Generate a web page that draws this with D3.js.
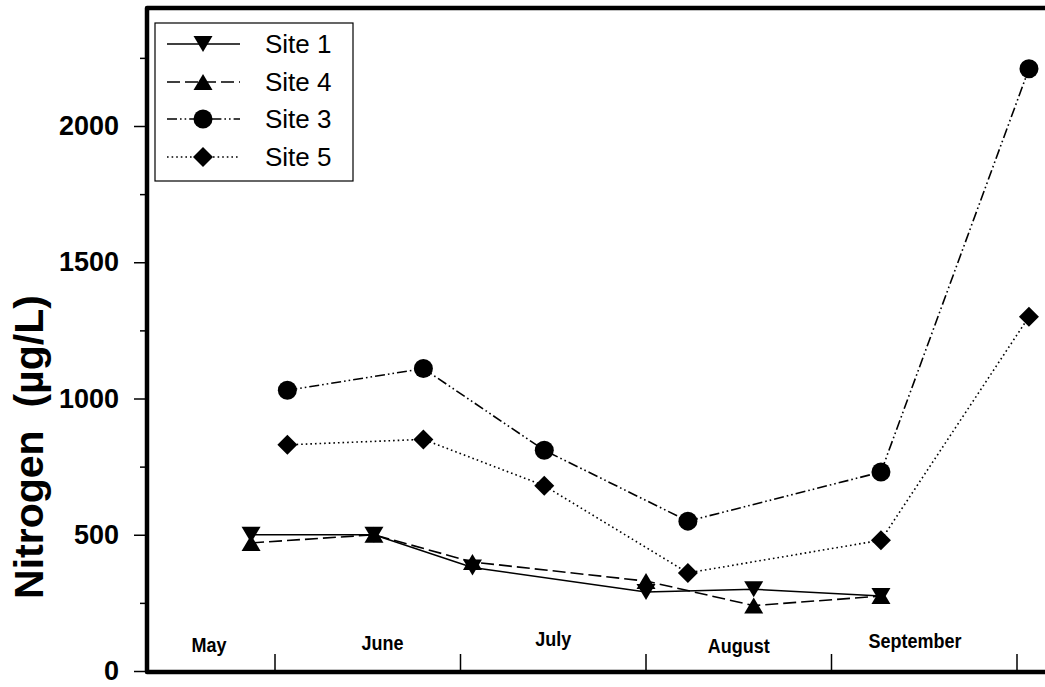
<!DOCTYPE html>
<html>
<head>
<meta charset="utf-8">
<script src="https://cdn.jsdelivr.net/npm/d3@7"></script>
<style>
  html, body { margin: 0; padding: 0; background: #fff; }
  svg { display: block; font-family: Arial, "Liberation Sans", Helvetica, sans-serif; }
</style>
</head>
<body>
<svg id="chart" width="1045" height="687"></svg>
<script>
// Sampling dates (month-day) for each pair of sites
const datesA = ["05-28", "06-17", "07-03", "08-01", "08-19", "09-09"]; // Sites 1 and 4
const datesB = ["06-03", "06-25", "07-15", "08-08", "09-09", "10-03"]; // Sites 3 and 5

// Nitrogen concentrations (µg/L)
const site1 = [500, 500, 380, 290, 300, 275];
const site4 = [470, 500, 400, 330, 240, 275];
const site3 = [1030, 1110, 810, 550, 730, 2210];
const site5 = [830, 850, 680, 360, 480, 1300];

const monthNames = ["May", "June", "July", "August", "September"];
const yTicks = [0, 500, 1000, 1500, 2000];
const yMinorTicks = [250, 750, 1250, 1750, 2250];

const svg = d3.select("#chart");

const plotLeft = 147, plotTop = 8, plotBottom = 672, plotRight = 1075;

// Month-based position: May = 0, June = 1, ... ; fractional part is day within month
const daysIn = [31, 30, 31, 31, 30, 31]; // May..October
function monthPos(md) {
  const [m, d] = md.split("-").map(Number);
  const idx = m - 5;
  return idx + (d - 1) / daysIn[idx];
}

const x = d3.scaleLinear().domain([1, 5]).range([275, 1017]);
const y = d3.scaleLinear().domain([0, 2000]).range([671, 126]);

const series = [
  { name: "Site 1", dates: datesA, values: site1, symbol: "down", dash: null },
  { name: "Site 4", dates: datesA, values: site4, symbol: "up", dash: "13,5" },
  { name: "Site 3", dates: datesB, values: site3, symbol: "circle", dash: "10,3,1.6,3,1.6,3" },
  { name: "Site 5", dates: datesB, values: site5, symbol: "diamond", dash: "1.6,3" }
];

function markerPath(type) {
  const w = 19, h = 16, r = 9.5, dm = 10;
  if (type === "down") return `M${-w/2},${-h/2}L${w/2},${-h/2}L0,${h/2}Z`;
  if (type === "up") return `M${-w/2},${h/2}L${w/2},${h/2}L0,${-h/2}Z`;
  if (type === "diamond") return `M0,${-dm}L${dm},0L0,${dm}L${-dm},0Z`;
  return d3.arc()({ innerRadius: 0, outerRadius: r, startAngle: 0, endAngle: 2 * Math.PI });
}

// Y axis ticks
const yAxis = d3.axisLeft(y).tickValues(yTicks).tickSize(13).tickFormat(d3.format("d")).tickPadding(15);
const gy = svg.append("g").attr("transform", `translate(${plotLeft},0)`).call(yAxis);
gy.select(".domain").remove();
gy.selectAll(".tick line").attr("stroke", "#000").attr("stroke-width", 1.5);
gy.selectAll(".tick text")
  .attr("font-size", 27).attr("font-weight", "bold").attr("fill", "#000")
  .attr("font-family", "Arial, 'Liberation Sans', sans-serif");

const gyMinor = svg.append("g").attr("transform", `translate(${plotLeft},0)`)
  .call(d3.axisLeft(y).tickValues(yMinorTicks).tickSize(7).tickFormat(""));
gyMinor.select(".domain").remove();
gyMinor.selectAll(".tick line").attr("stroke", "#000").attr("stroke-width", 1.5);

// X axis: month boundary ticks pointing up, month names between them
const boundaries = [1, 2, 3, 4, 5];
svg.append("g").selectAll("line").data(boundaries).join("line")
  .attr("x1", d => x(d)).attr("x2", d => x(d))
  .attr("y1", plotBottom).attr("y2", plotBottom - 18)
  .attr("stroke", "#000").attr("stroke-width", 1.5);

// Month names sit between the boundary ticks, each with its own small vertical offset
const labelX = [(plotLeft + x(1)) / 2 - 2, x(1.58), x(2.5), x(3.5), x(4.45)];
const labelY = [652, 650, 646, 653, 648];
svg.append("g").selectAll("text").data(monthNames).join("text")
  .attr("transform", (d, i) => `translate(${labelX[i]},${labelY[i]}) scale(0.9,1)`)
  .attr("text-anchor", "middle")
  .attr("font-size", 20).attr("font-weight", "bold")
  .text(d => d);

// Series lines and markers
const line = d3.line().x(d => x(d.pos)).y(d => y(d.v));
series.forEach(s => {
  const pts = s.values.map((v, i) => ({ pos: monthPos(s.dates[i]), v }));
  svg.append("path").datum(pts)
    .attr("d", line).attr("fill", "none").attr("stroke", "#000")
    .attr("stroke-width", 1.6)
    .attr("stroke-dasharray", s.dash);
  svg.append("g").selectAll("path").data(pts).join("path")
    .attr("transform", d => `translate(${x(d.pos)},${y(d.v)})`)
    .attr("d", markerPath(s.symbol)).attr("fill", "#000");
});

// Frame: left axis, top and bottom borders
svg.append("path")
  .attr("d", `M${plotRight},${plotBottom}L${plotLeft},${plotBottom}L${plotLeft},${plotTop}L${plotRight},${plotTop}`)
  .attr("fill", "none").attr("stroke", "#000").attr("stroke-width", 4.5)
  .attr("stroke-linejoin", "round");

// Y axis title
svg.append("text")
  .attr("transform", `translate(43,447) rotate(-90)`)
  .attr("text-anchor", "middle")
  .attr("font-size", 41).attr("font-weight", "bold")
  .attr("xml:space", "preserve")
  .text("Nitrogen  (\u00b5g/L)");

// Legend
const lg = svg.append("g");
lg.append("rect").attr("x", 155).attr("y", 23).attr("width", 198).attr("height", 158)
  .attr("fill", "#fff").attr("stroke", "#000").attr("stroke-width", 1.2);
const rowY = [44, 82, 119, 157];
series.forEach((s, i) => {
  const ry = rowY[i];
  lg.append("line").attr("x1", 167).attr("x2", 240).attr("y1", ry).attr("y2", ry)
    .attr("stroke", "#000").attr("stroke-width", 1.6).attr("stroke-dasharray", s.dash);
  lg.append("path").attr("transform", `translate(203,${ry})`)
    .attr("d", markerPath(s.symbol)).attr("fill", "#000");
  lg.append("text").attr("x", 265).attr("y", ry).attr("dy", "0.36em")
    .attr("font-size", 26).text(s.name);
});
</script>
</body>
</html>
